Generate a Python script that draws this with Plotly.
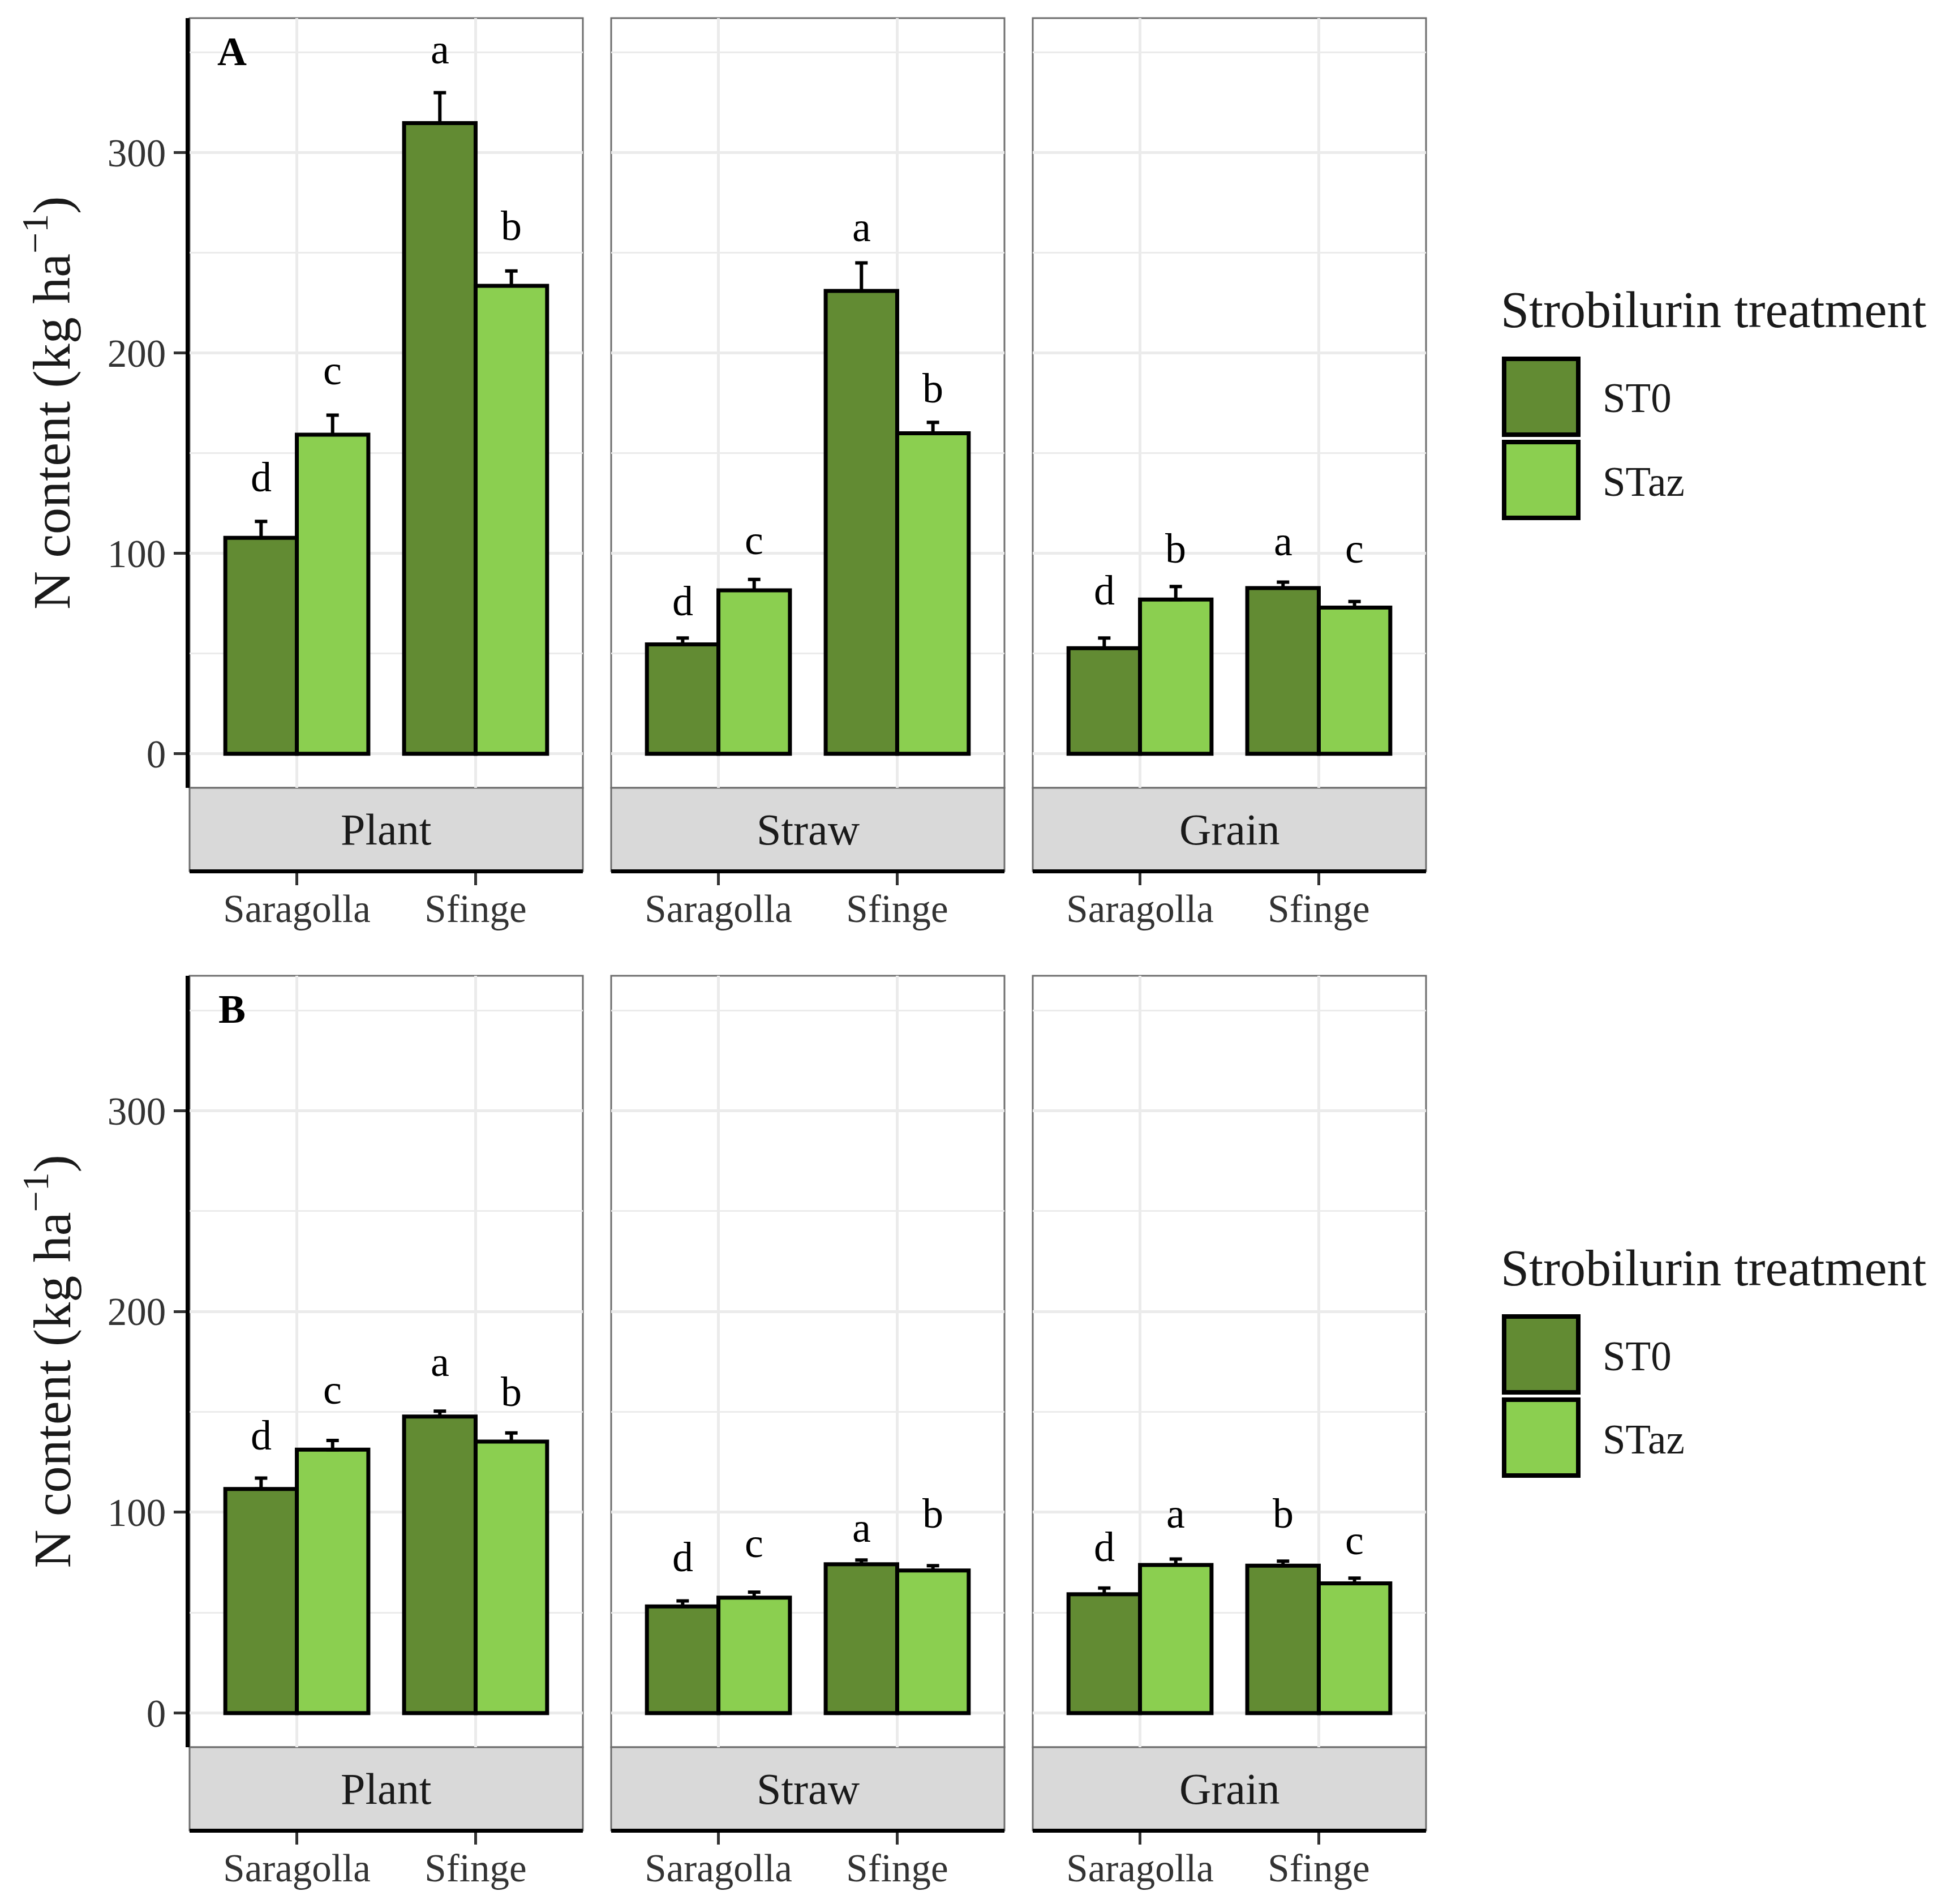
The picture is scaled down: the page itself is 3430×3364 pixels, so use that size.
import plotly.graph_objects as go

W, H = 3430, 3364

cultivars = ["Saragolla", "Sfinge"]
organs = ["Plant", "Straw", "Grain"]
treatments = ["ST0", "STaz"]
fill = {"ST0": "#628B33", "STaz": "#8BCF50"}

# panel A - N content (kg ha-1), values per organ as [Saragolla, Sfinge]
a_st0_mean = {"Plant": [107.8, 314.8], "Straw": [54.6, 231.0], "Grain": [52.7, 82.7]}
a_st0_se = {"Plant": [8.2, 15.2], "Straw": [3.2, 14.0], "Grain": [5.1, 3.0]}
a_staz_mean = {"Plant": [159.3, 233.6], "Straw": [81.6, 160.0], "Grain": [77.0, 73.0]}
a_staz_se = {"Plant": [9.7, 7.4], "Straw": [5.4, 5.4], "Grain": [6.5, 3.0]}
a_st0_letters = {"Plant": ["d", "a"], "Straw": ["d", "a"], "Grain": ["d", "a"]}
a_staz_letters = {"Plant": ["c", "b"], "Straw": ["c", "b"], "Grain": ["b", "c"]}
a_st0_letter_y = {"Plant": [130.5, 344.0], "Straw": [68.6, 255.4], "Grain": [74.0, 98.6]}
a_staz_letter_y = {"Plant": [184.0, 255.8], "Straw": [99.2, 174.9], "Grain": [95.0, 95.0]}

# panel B
b_st0_mean = {"Plant": [111.6, 147.7], "Straw": [53.1, 74.1], "Grain": [59.2, 73.4]}
b_st0_se = {"Plant": [5.4, 2.7], "Straw": [2.8, 2.1], "Grain": [3.1, 2.3]}
b_staz_mean = {"Plant": [131.2, 135.2], "Straw": [57.5, 71.0], "Grain": [73.8, 64.6]}
b_staz_se = {"Plant": [4.6, 4.3], "Straw": [2.7, 2.4], "Grain": [2.9, 2.6]}
b_st0_letters = {"Plant": ["d", "a"], "Straw": ["d", "a"], "Grain": ["d", "b"]}
b_staz_letters = {"Plant": ["c", "b"], "Straw": ["c", "b"], "Grain": ["a", "c"]}
b_st0_letter_y = {"Plant": [130.6, 167.3], "Straw": [70.1, 84.9], "Grain": [75.3, 91.8]}
b_staz_letter_y = {"Plant": [153.4, 152.4], "Straw": [77.1, 91.8], "Grain": [91.8, 78.5]}

y_range = [-17, 367.2]
y_title = "N content (kg ha<sup>−1</sup>)"
legend_title = "Strobilurin treatment"

FONT = "Liberation Serif"

panels = [
    ("A", a_st0_mean, a_st0_se, a_staz_mean, a_staz_se,
     a_st0_letters, a_staz_letters, a_st0_letter_y, a_staz_letter_y),
    ("B", b_st0_mean, b_st0_se, b_staz_mean, b_staz_se,
     b_st0_letters, b_staz_letters, b_st0_letter_y, b_staz_letter_y),
]

# pixel layout of the facets (page coords)
col_x = [(335, 1030), (1080, 1775), (1825, 2520)]
row_y = [(32, 1392), (1724, 3087)]
strip_h = 147
row_off = row_y[1][0] - row_y[0][0]
PAGE = 8  # body margin of the html page


def px(x):
    return (x - PAGE) / W


def py(y):
    return 1 - (y - PAGE) / H


fig = go.Figure()
shapes = []
annotations = []

for r, (tag, st0_m, st0_s, staz_m, staz_s, st0_l, staz_l, st0_ly, staz_ly) in enumerate(panels):
    for c, organ in enumerate(organs):
        k = r * 3 + c + 1
        xa = "x" if k == 1 else f"x{k}"
        ya = "y" if k == 1 else f"y{k}"
        x0, x1 = col_x[c]
        y0, y1 = row_y[r]

        for trt, m, s in (("ST0", st0_m, st0_s), ("STaz", staz_m, staz_s)):
            fig.add_trace(go.Bar(
                x=cultivars, y=m[organ], name=trt, xaxis=xa, yaxis=ya,
                marker=dict(color=fill[trt], line=dict(color="black", width=7)),
                error_y=dict(type="data", symmetric=False, array=s[organ],
                             arrayminus=[0] * len(cultivars),
                             color="black", thickness=6, width=11),
                showlegend=False,
            ))

        for off, lets, ly in ((-0.2, st0_l, st0_ly), (0.2, staz_l, staz_ly)):
            for i, (t, yy) in enumerate(zip(lets[organ], ly[organ])):
                annotations.append(dict(
                    x=i + off, y=yy, xref=xa, yref=ya, text=t, showarrow=False,
                    xanchor="center", yanchor="bottom", yshift=-16,
                    font=dict(family=FONT, size=74, color="black")))

        ax_key = "xaxis" if k == 1 else f"xaxis{k}"
        ay_key = "yaxis" if k == 1 else f"yaxis{k}"
        fig.layout[ax_key] = dict(
            domain=[px(x0), px(x1)], anchor="free", position=py(y1 + strip_h),
            type="category", range=[-0.6, 1.6],
            showgrid=True, gridcolor="#EBEBEB", gridwidth=5,
            showline=True, linecolor="black", linewidth=7,
            ticks="outside", ticklen=21, tickwidth=5, tickcolor="#333333",
            ticklabelstandoff=-18,
            tickfont=dict(family=FONT, size=69, color="#333333"),
            zeroline=False, fixedrange=True,
        )
        left = c == 0
        fig.layout[ay_key] = dict(
            domain=[py(y1), py(y0)], anchor=xa, range=y_range,
            tick0=0, dtick=100, showgrid=True, gridcolor="#EBEBEB", gridwidth=5,
            minor=dict(tick0=0, dtick=50, showgrid=True, gridcolor="#EBEBEB",
                       gridwidth=3, ticks=""),
            showline=left, linecolor="black", linewidth=7,
            ticks="outside" if left else "", ticklen=21, tickwidth=5,
            tickcolor="#333333", showticklabels=left,
            tickfont=dict(family=FONT, size=69, color="#333333"),
            zeroline=False, fixedrange=True,
        )

        # panel border
        shapes.append(dict(type="rect", xref="paper", yref="paper",
                           x0=px(x0), x1=px(x1), y0=py(y1), y1=py(y0),
                           line=dict(color="#6E6E6E", width=3), layer="between"))
        # strip below the panel
        shapes.append(dict(type="rect", xref="paper", yref="paper",
                           x0=px(x0), x1=px(x1), y0=py(y1 + strip_h), y1=py(y1),
                           fillcolor="#D9D9D9", line=dict(color="#6E6E6E", width=3),
                           layer="below"))
        annotations.append(dict(x=px((x0 + x1) / 2), y=py(y1 + strip_h / 2),
                                xref="paper", yref="paper", text=organ,
                                showarrow=False, xanchor="center", yanchor="middle",
                                font=dict(family=FONT, size=78, color="#1A1A1A")))

    # panel tag
    annotations.append(dict(x=px(410), y=py(91 + r * row_off), xref="paper", yref="paper",
                            text=f"<b>{tag}</b>", showarrow=False,
                            xanchor="center", yanchor="middle",
                            font=dict(family=FONT, size=72, color="black")))
    # y title
    annotations.append(dict(x=px(84), y=py((row_y[r][0] + row_y[r][1]) / 2),
                            xref="paper", yref="paper", text=y_title, textangle=-90,
                            showarrow=False, xanchor="center", yanchor="middle",
                            font=dict(family=FONT, size=94, color="#1A1A1A")))
    # legend, drawn by hand so the keys can be large
    dy = r * row_off
    annotations.append(dict(x=px(2650), y=py(548 + dy), xref="paper", yref="paper",
                            text=legend_title, showarrow=False,
                            xanchor="left", yanchor="middle",
                            font=dict(family=FONT, size=90, color="#1A1A1A")))
    for j, trt in enumerate(treatments):
        top = 634 + j * 147 + dy
        shapes.append(dict(type="rect", xref="paper", yref="paper",
                           x0=px(2658), x1=px(2789), y0=py(top + 134), y1=py(top),
                           fillcolor=fill[trt], line=dict(color="black", width=8)))
        annotations.append(dict(x=px(2830), y=py(top + 70), xref="paper", yref="paper",
                                text=trt, showarrow=False,
                                xanchor="left", yanchor="middle",
                                font=dict(family=FONT, size=73, color="#1A1A1A")))

fig.update_layout(
    width=W, height=H,
    margin=dict(l=0, r=0, t=0, b=0),
    barmode="group", bargap=0.2, bargroupgap=0,
    plot_bgcolor="white", paper_bgcolor="white",
    showlegend=False,
    font=dict(family=FONT),
    shapes=shapes, annotations=annotations,
)

fig.write_html("out.html")
